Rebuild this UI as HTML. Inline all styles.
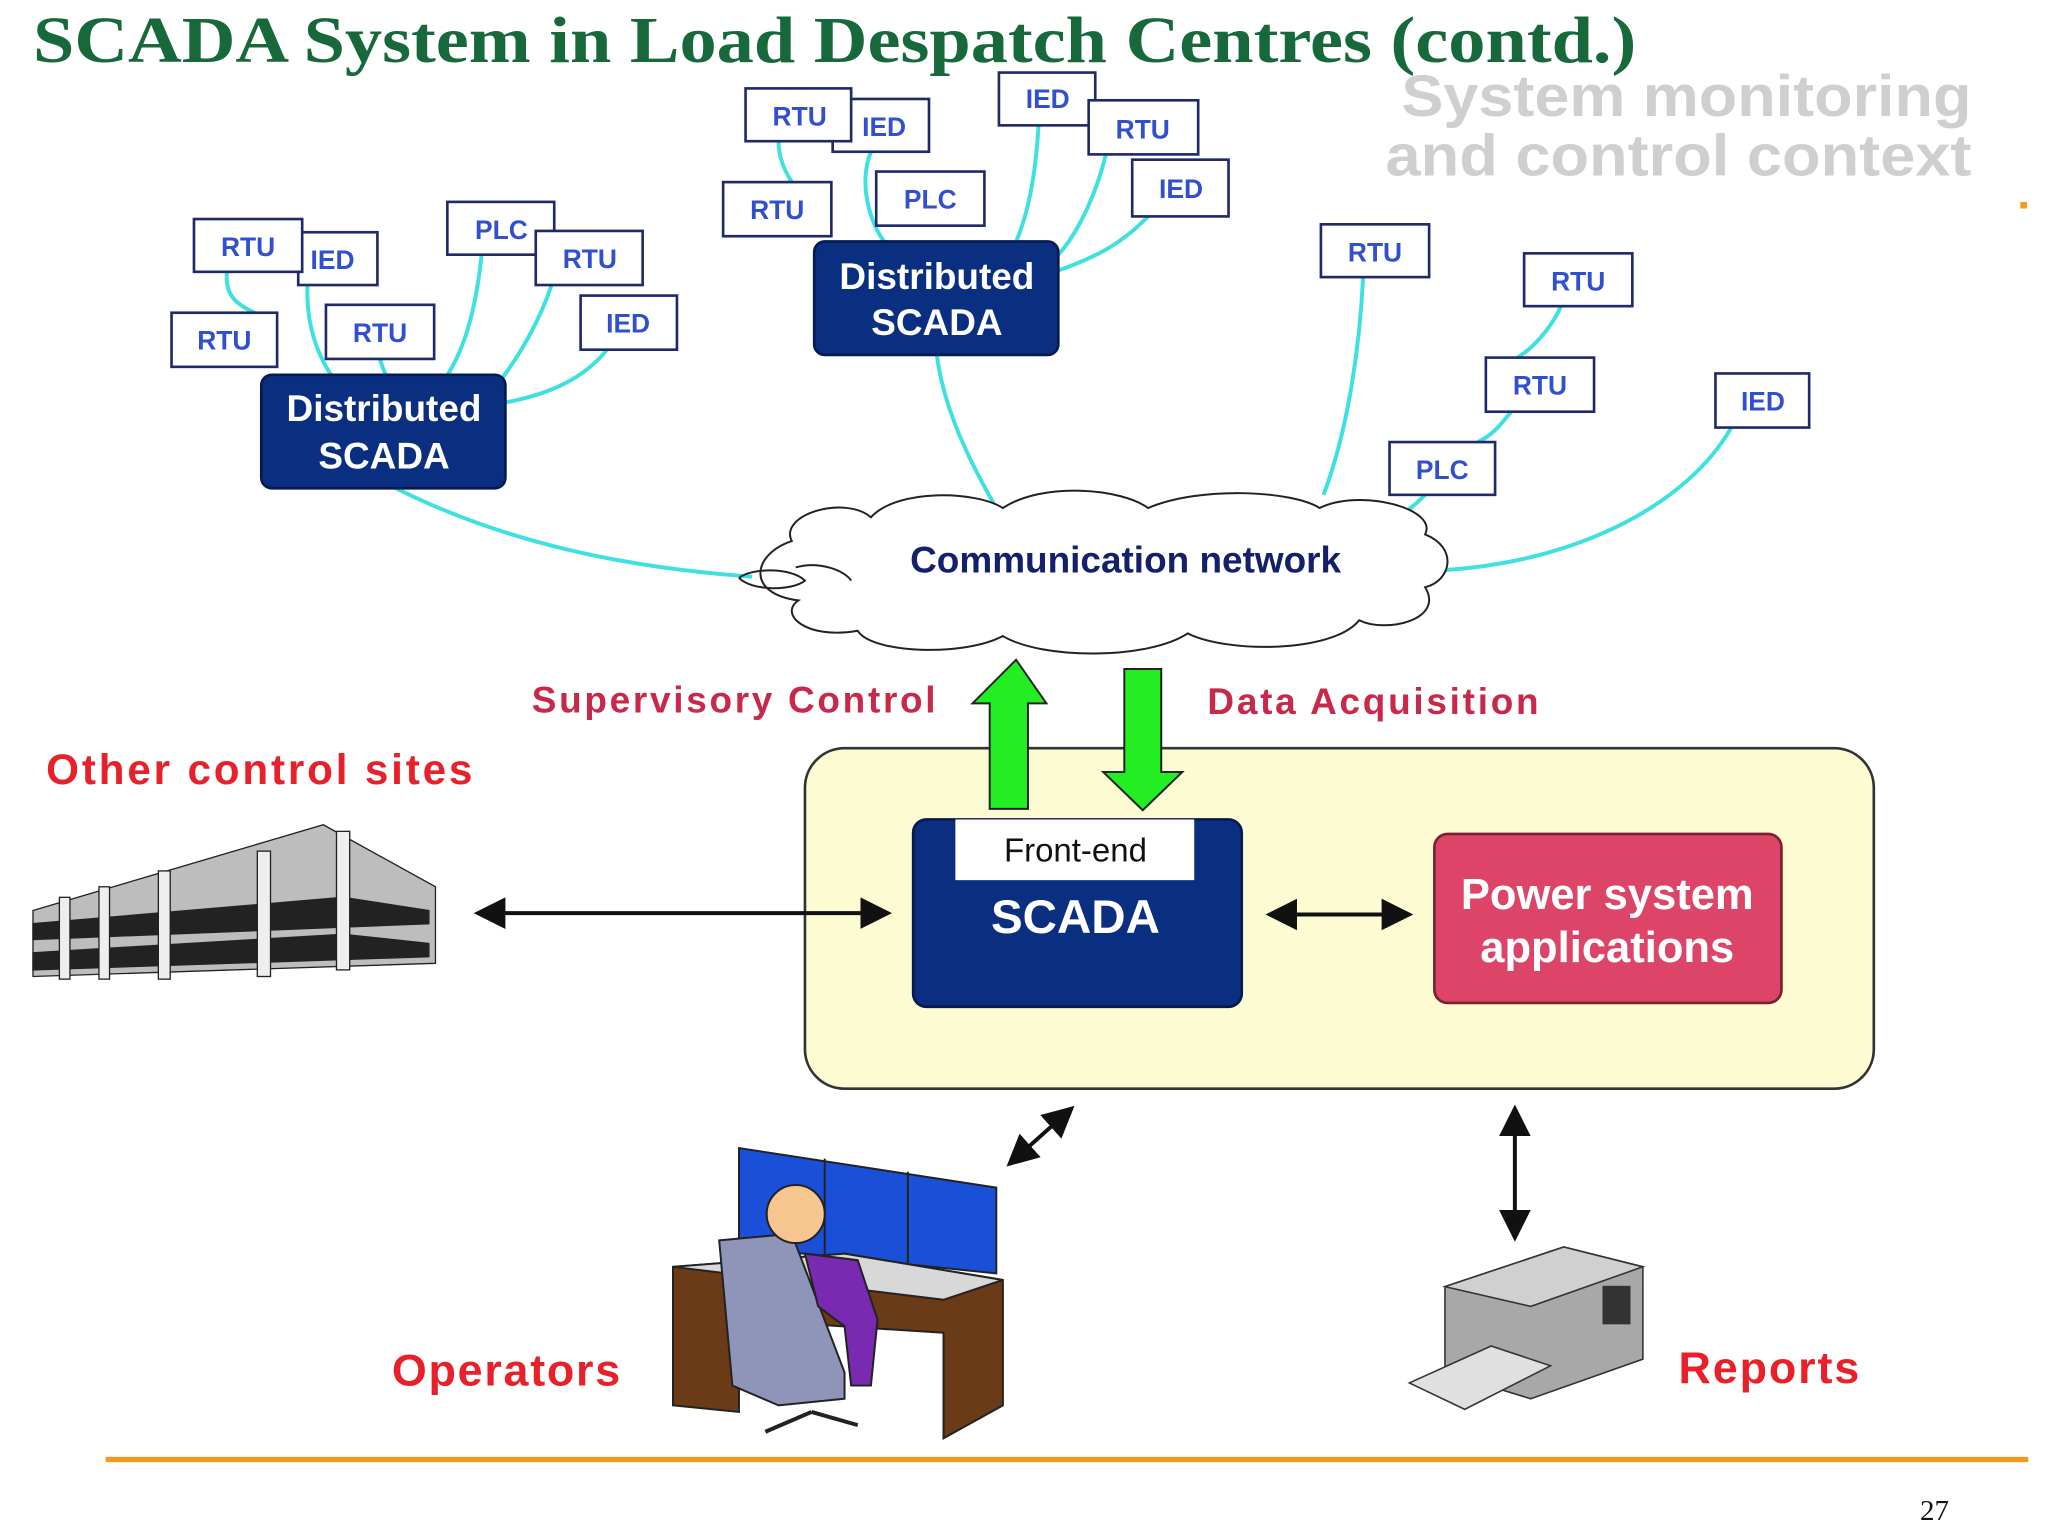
<!DOCTYPE html>
<html><head><meta charset="utf-8"><style>html,body{margin:0;padding:0;background:#fff}svg{display:block}</style></head>
<body>
<svg width="2048" height="1536" viewBox="0 0 1552 1164" xmlns="http://www.w3.org/2000/svg">
<rect width="1552" height="1164" fill="#fff"/>
<text x="25" y="47" font-family="Liberation Serif, serif" font-weight="bold" font-size="50" fill="#17683a" textLength="1215" lengthAdjust="spacingAndGlyphs">SCADA System in Load Despatch Centres (contd.)</text>
<g font-family="Liberation Sans, sans-serif" font-weight="bold" font-size="44" fill="#cfcfcf">
<text x="1062" y="88" textLength="432" lengthAdjust="spacingAndGlyphs">System monitoring</text><text x="1050" y="133" textLength="444" lengthAdjust="spacingAndGlyphs">and control context</text></g>
<rect x="1531" y="153" width="5" height="5" fill="#f39a1d"/>
<g stroke="#3fe0e0" stroke-width="3" fill="none">
<path d="M172,206 C170,225 180,232 200,240"/><path d="M233,216 C232,245 240,270 255,290"/>
<path d="M288,272 C290,280 293,285 295,290"/><path d="M365,193 C360,240 350,270 335,290"/>
<path d="M418,216 C410,240 395,270 370,300"/><path d="M460,265 C440,290 410,300 383,305"/>
<path d="M300,370 C380,410 470,430 570,437"/>
<path d="M590,107 C590,120 595,130 600,138"/><path d="M660,115 C650,140 660,170 670,183"/>
<path d="M787,95 C785,130 780,160 770,183"/><path d="M838,117 C830,150 815,180 800,195"/>
<path d="M870,164 C850,185 830,195 802,205"/><path d="M710,269 C715,310 735,350 755,385"/>
<path d="M1033,210 C1030,270 1020,330 1003,375"/><path d="M1183,232 C1175,250 1160,265 1150,271"/>
<path d="M1145,312 C1135,325 1130,330 1120,335"/><path d="M1080,375 C1070,385 1065,388 1060,392"/>
<path d="M1312,324 C1280,380 1200,425 1095,432"/>
</g>
<g font-family="Liberation Sans, sans-serif" font-weight="bold" font-size="20" fill="#3050d0" text-anchor="middle">
<g stroke="#1f2a6b" stroke-width="2" fill="#fff">
<rect x="226" y="176" width="60" height="40"/><rect x="147" y="166" width="82" height="40"/>
<rect x="130" y="237" width="80" height="41"/><rect x="247" y="231" width="82" height="41"/>
<rect x="339" y="153" width="81" height="40"/><rect x="406" y="175" width="81" height="41"/>
<rect x="440" y="224" width="73" height="41"/>
<rect x="631" y="75" width="73" height="40"/><rect x="565" y="67" width="80" height="40"/>
<rect x="757" y="55" width="73" height="40"/><rect x="825" y="76" width="83" height="41"/>
<rect x="548" y="138" width="82" height="41"/><rect x="664" y="130" width="82" height="41"/>
<rect x="858" y="121" width="73" height="43"/>
<rect x="1001" y="170" width="82" height="40"/><rect x="1155" y="192" width="82" height="40"/>
<rect x="1126" y="271" width="82" height="41"/><rect x="1300" y="283" width="71" height="41"/>
<rect x="1053" y="335" width="80" height="40"/></g>
<text x="252" y="204">IED</text><text x="188" y="194">RTU</text><text x="170" y="265">RTU</text>
<text x="288" y="259">RTU</text><text x="380" y="181">PLC</text><text x="447" y="203">RTU</text>
<text x="476" y="252">IED</text><text x="670" y="103">IED</text><text x="606" y="95">RTU</text>
<text x="794" y="82">IED</text><text x="866" y="105">RTU</text><text x="589" y="166">RTU</text>
<text x="705" y="158">PLC</text><text x="895" y="150">IED</text><text x="1042" y="198">RTU</text>
<text x="1196" y="220">RTU</text><text x="1167" y="299">RTU</text><text x="1336" y="311">IED</text>
<text x="1093" y="363">PLC</text>
</g>
<g font-family="Liberation Sans, sans-serif" font-weight="bold" font-size="28" fill="#fff" text-anchor="middle">
<rect x="198" y="284" width="185" height="86" rx="8" fill="#0a2f80" stroke="#061a50" stroke-width="2"/>
<text x="291" y="319">Distributed</text><text x="291" y="355">SCADA</text>
<rect x="617" y="183" width="185" height="86" rx="8" fill="#0a2f80" stroke="#061a50" stroke-width="2"/>
<text x="710" y="219">Distributed</text><text x="710" y="254">SCADA</text></g>
<path d="M600,410 C590,390 640,375 660,392 C680,370 740,372 760,385 C790,365 850,370 870,385 C910,368 980,372 1000,385 C1030,370 1090,385 1080,405 C1105,415 1100,440 1080,445 C1095,470 1050,480 1030,470 C1010,495 930,495 900,480 C870,500 790,500 760,482 C730,498 660,495 650,478 C610,485 590,465 605,455 C565,450 570,420 600,410 Z" fill="#fff" stroke="#222" stroke-width="1.5"/>
<path d="M603,430 C620,425 640,432 645,440 M560,438 C570,430 600,430 610,440 C600,448 570,448 560,438" fill="none" stroke="#222" stroke-width="1.5"/>
<text x="853" y="434" font-family="Liberation Sans, sans-serif" font-weight="bold" font-size="28" fill="#13206a" text-anchor="middle">Communication network</text>
<g font-family="Liberation Sans, sans-serif" font-weight="bold">
<text x="403" y="540" font-size="28" fill="#c8284a" textLength="306">Supervisory Control</text>
<text x="915" y="541" font-size="28" fill="#c8284a" textLength="251">Data Acquisition</text>
<text x="35" y="594" font-size="32" fill="#e8202a" textLength="323">Other control sites</text>
<text x="297" y="1050" font-size="34" fill="#e8202a" textLength="173">Operators</text>
<text x="1272" y="1048" font-size="34" fill="#e8202a" textLength="137">Reports</text></g>
<rect x="610" y="567" width="810" height="258" rx="30" fill="#fdfbd2" stroke="#333" stroke-width="2"/>
<path d="M750,613 L750,533 L737,533 L770,500 L793,533 L779,533 L779,613 Z" fill="#22ee22" stroke="#222" stroke-width="1.5"/>
<path d="M852,507 L880,507 L880,585 L896,585 L866,614 L836,585 L852,585 Z" fill="#22ee22" stroke="#222" stroke-width="1.5"/>
<rect x="692" y="621" width="249" height="142" rx="10" fill="#0a2f80" stroke="#061a50" stroke-width="2"/>
<rect x="724" y="621" width="181" height="46" fill="#fff"/>
<text x="815" y="653" font-family="Liberation Sans, sans-serif" font-size="25" fill="#111" text-anchor="middle">Front-end</text>
<text x="815" y="707" font-family="Liberation Sans, sans-serif" font-weight="bold" font-size="36" fill="#fff" text-anchor="middle">SCADA</text>
<rect x="1087" y="632" width="263" height="128" rx="10" fill="#dc4568" stroke="#7a2030" stroke-width="2"/>
<g font-family="Liberation Sans, sans-serif" font-weight="bold" font-size="33" fill="#fff" text-anchor="middle">
<text x="1218" y="689">Power system</text><text x="1218" y="729">applications</text></g>
<defs><marker id="a" markerWidth="8" markerHeight="8" refX="7" refY="4" orient="auto-start-reverse"><path d="M0,0 L8,4 L0,8 Z" fill="#111"/></marker></defs>
<g stroke="#111" stroke-width="3" marker-start="url(#a)" marker-end="url(#a)">
<line x1="362" y1="692" x2="673" y2="692"/><line x1="962" y1="693" x2="1068" y2="693"/>
<line x1="765" y1="882" x2="812" y2="840"/><line x1="1148" y1="840" x2="1148" y2="938"/></g>
<g stroke="#222" stroke-width="1">
<path d="M25,690 L245,625 L330,672 L330,730 L25,740 Z" fill="#bdbdbd"/>
<path d="M25,700 L260,680 L325,690 L325,700 L25,712 Z" fill="#222"/>
<path d="M25,722 L260,708 L325,715 L325,725 L25,735 Z" fill="#222"/>
<rect x="45" y="680" width="8" height="62" fill="#eee"/><rect x="75" y="672" width="8" height="70" fill="#eee"/>
<rect x="120" y="660" width="9" height="82" fill="#eee"/><rect x="195" y="645" width="10" height="95" fill="#eee"/>
<rect x="255" y="630" width="10" height="105" fill="#eee"/></g>
<g stroke="#222" stroke-width="1.5">
<path d="M560,870 L755,900 L755,965 L560,945 Z" fill="#1a4fd8"/>
<line x1="625" y1="878" x2="625" y2="952"/><line x1="688" y1="888" x2="688" y2="958"/>
<path d="M510,960 L640,950 L760,970 L760,1065 L715,1090 L715,1010 L560,1000 L560,1070 L510,1065 Z" fill="#6b3a16"/>
<path d="M510,960 L640,950 L760,970 L715,985 Z" fill="#d8d8d8"/>
<path d="M545,940 L600,935 L640,1040 L640,1060 L590,1065 L555,1050 Z" fill="#8f95b8"/>
<path d="M610,950 L650,955 L665,1000 L660,1050 L645,1050 L640,1005 L620,990 Z" fill="#7a2ab0"/>
<circle cx="603" cy="920" r="22" fill="#f7c690"/>
<path d="M615,1070 L580,1085 M615,1070 L650,1080" stroke-width="3"/></g>
<g stroke="#333" stroke-width="1.2">
<path d="M1095,975 L1185,945 L1245,960 L1245,1030 L1160,1060 L1095,1040 Z" fill="#a8a8a8"/>
<path d="M1095,975 L1185,945 L1245,960 L1160,990 Z" fill="#d0d0d0"/>
<path d="M1068,1048 L1130,1020 L1175,1035 L1110,1068 Z" fill="#e0e0e0"/>
<rect x="1215" y="975" width="20" height="28" fill="#333"/></g>
<line x1="80" y1="1106" x2="1537" y2="1106" stroke="#f39a1d" stroke-width="4"/>
<text x="1455" y="1152" font-family="Liberation Serif, serif" font-size="22" fill="#111">27</text>
</svg>
</body></html>
